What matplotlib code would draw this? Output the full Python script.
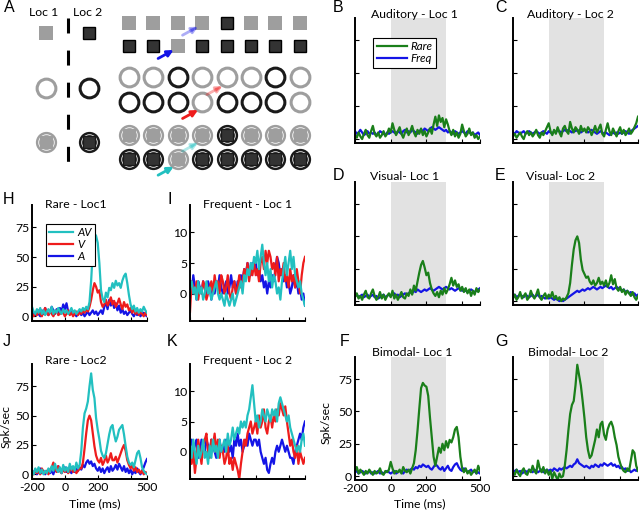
import numpy as np
import matplotlib.pyplot as plt

plt.rcParams['font.family'] = ['Lato', 'DejaVu Sans']

# time axis (ms), one value every 10 ms
t = np.arange(-200, 501, 10)

# B-G: rare (green) and frequent (blue) trials, spk/sec
aud1_rare = [3, 1, 5, 2, 0, 4, 7, 3, 1, 6,
             10, 4, 2, 5, 1, 3, 6, 2, 4, 8,
             5, 12, 7, 3, 6, 9, 4, 1, 5, 8,
             3, 6, 10, 5, 2, 7, 4, 8, 3, 6,
             2, 5, 8, 4, 11, 17, 10, 18, 13, 16,
             9, 15, 11, 6, 3, 7, 2, 5, 1, 4,
             11, 6, 2, 4, 8, 3, 5, 1, 3, 0, 2]
aud1_freq = [6, 4, 5, 7, 5, 3, 4, 6, 4, 5,
             4, 5, 3, 4, 6, 5, 4, 3, 5, 4,
             5, 6, 5, 4, 6, 5, 4, 6, 7, 5,
             6, 5, 7, 6, 5, 4, 6, 7, 6, 8,
             7, 6, 8, 9, 8, 7, 8, 9, 8, 7,
             6, 7, 5, 6, 5, 4, 6, 5, 4, 5,
             6, 5, 4, 6, 5, 4, 5, 3, 4, 5, 3]
aud2_rare = [2, 4, 1, 3, 5, 2, 0, 4, 6, 3,
             5, 2, 4, 7, 3, 1, 5, 3, 6, 9,
             12, 6, 3, 7, 4, 9, 5, 2, 8, 10,
             6, 4, 13, 8, 5, 9, 7, 4, 10, 6,
             8, 5, 9, 7, 3, 6, 10, 5, 8, 11,
             4, 2, 7, 12, 6, 3, 8, 5, 2, 6,
             9, 4, 7, 3, 5, 8, 4, 6, 9, 12, 17]
aud2_freq = [5, 4, 6, 5, 4, 5, 6, 4, 5, 6,
             5, 4, 5, 6, 5, 4, 5, 6, 5, 4,
             6, 5, 4, 6, 5, 7, 6, 5, 6, 7,
             6, 7, 6, 5, 7, 6, 7, 6, 5, 6,
             7, 6, 5, 6, 7, 6, 5, 4, 5, 6,
             5, 4, 5, 4, 3, 4, 5, 4, 5, 4,
             5, 4, 5, 6, 5, 4, 6, 7, 8, 9, 10]
vis1_rare = [3, 6, 2, 4, 1, 5, 8, 3, 2, 6,
             9, 4, 1, 3, 7, 2, 5, 1, 4, 6,
             3, 8, 2, 5, 1, 4, 7, 3, 2, 6,
             4, 9, 5, 12, 8, 15, 22, 28, 31, 26,
             20, 22, 14, 9, 6, 4, 7, 3, 8, 5,
             10, 6, 9, 13, 18, 12, 16, 11, 13, 8,
             11, 7, 10, 6, 9, 4, 8, 5, 10, 7, 9]
vis1_freq = [4, 5, 3, 4, 5, 3, 4, 5, 3, 4,
             5, 3, 4, 2, 3, 4, 5, 3, 4, 5,
             4, 5, 6, 4, 5, 3, 4, 5, 6, 5,
             6, 7, 6, 8, 7, 9, 8, 7, 8, 9,
             8, 9, 10, 9, 8, 9, 10, 11, 10, 9,
             10, 11, 10, 9, 10, 9, 8, 9, 10, 9,
             8, 9, 8, 7, 8, 9, 8, 7, 8, 9, 10]
vis2_rare = [2, 5, 1, 3, 7, 2, 4, 6, 1, 3,
             8, 4, 2, 5, 9, 3, 1, 4, 6, 2,
             5, 3, 7, 2, 4, 1, 3, 0, 2, 1,
             3, 6, 14, 28, 40, 47, 50, 45, 32, 24,
             21, 18, 19, 15, 13, 16, 12, 14, 18, 13,
             15, 12, 16, 11, 14, 20, 13, 17, 10, 8,
             11, 7, 9, 5, 8, 6, 4, 7, 3, 1, 4]
vis2_freq = [4, 5, 3, 4, 5, 4, 3, 5, 4, 3,
             4, 5, 3, 4, 5, 3, 4, 3, 2, 3,
             2, 3, 2, 1, 2, 1, 0, 1, 0, 1,
             2, 3, 4, 5, 6, 7, 8, 7, 8, 9,
             8, 9, 10, 9, 10, 11, 10, 9, 10, 11,
             10, 11, 12, 11, 10, 11, 9, 10, 11, 10,
             9, 8, 9, 7, 8, 6, 7, 5, 6, 4, 5]
bim1_rare = [4, 7, 2, 5, 3, 1, 4, 2, 5, 3,
             1, 4, 2, 3, 6, 2, 1, 4, 3, 5,
             11, 6, 2, 4, 3, 5, 2, 7, 4, 3,
             5, 2, 6, 10, 20, 35, 52, 68, 72, 70,
             69, 62, 45, 30, 15, 8, 15, 22, 18, 25,
             20, 27, 22, 28, 26, 30, 36, 38, 30, 15,
             6, 3, 6, 2, 4, 1, 3, 5, 2, 8, 4]
bim1_freq = [3, 4, 2, 3, 4, 3, 2, 3, 4, 2,
             3, 2, 3, 4, 2, 3, 2, 3, 4, 3,
             2, 3, 4, 2, 3, 4, 3, 2, 4, 5,
             4, 5, 6, 5, 7, 6, 8, 7, 9, 8,
             7, 8, 6, 5, 7, 9, 8, 6, 5, 7,
             4, 6, 8, 5, 4, 7, 9, 10, 7, 5,
             4, 6, 5, 3, 4, 5, 3, 4, 2, 3, 2]
bim2_rare = [3, 1, 5, 2, 0, 4, 6, 2, 1, 5,
             3, 8, 4, 2, 12, 6, 3, 7, 2, 5,
             1, 4, -2, 3, 0, -3, 2, -1, 0, 8,
             20, 35, 48, 55, 58, 70, 86, 78, 70, 58,
             45, 30, 20, 14, 16, 22, 28, 36, 30, 40,
             42, 32, 28, 36, 40, 42, 38, 30, 24, 15,
             10, 6, 4, 3, 6, 4, 12, 20, 18, 8, 4]
bim2_freq = [3, 4, 5, 3, 4, 2, 3, 4, 3, 5,
             4, 3, 5, 4, 3, 4, 5, 3, 4, 5,
             4, 5, 4, 6, 5, 4, 6, 5, 6, 7,
             6, 7, 8, 7, 9, 10, 13, 10, 9, 8,
             7, 8, 7, 6, 8, 7, 9, 8, 7, 9,
             8, 10, 9, 8, 9, 10, 8, 9, 7, 8,
             6, 7, 5, 6, 4, 5, 3, 4, 5, 4, 6]

# H-K: AV (cyan), V (red), A (blue)
rare1_av = [8, 4, 2, 6, 3, 7, 2, 5, 1, 4,
            6, 3, 8, 2, 5, 3, 7, 4, 2, 6,
            3, 5, 2, 4, 7, 3, 5, 2, 4, 6,
            4, 7, 5, 8, 6, 12, 30, 55, 70, 68,
            62, 45, 22, 15, 12, 20, 16, 24, 22, 28,
            24, 30, 26, 28, 24, 30, 34, 36, 28, 18,
            10, 6, 9, 4, 7, 3, 6, 4, 8, 5, 3]
rare1_v = [2, 0, 3, 1, 5, 2, 0, 4, 7, 3,
           1, 4, 2, 0, 3, 5, 1, 2, 4, 3,
           0, 2, 5, 1, 3, 0, 2, 4, 1, 3,
           2, 5, 3, 6, 4, 8, 14, 22, 28, 25,
           20, 22, 12, 8, 10, 14, 9, 12, 16, 10,
           13, 8, 11, 15, 10, 6, 12, 8, 10, 5,
           7, 3, 6, 2, 5, 1, 4, 2, 0, 3, 1]
rare1_a = [0, 3, 1, 4, 2, 0, 5, 2, 7, 3,
           1, 4, 8, 5, 2, 6, 3, 7, 4, 10,
           6, 11, 4, 2, 5, 1, 3, 0, 2, 4,
           1, 3, 0, 2, 4, 1, 3, 5, 2, 4,
           1, 3, 5, 2, 8, 12, 6, 14, 9, 13,
           7, 11, 5, 9, 3, 6, 2, 4, 1, 3,
           5, 2, 0, 3, 1, 4, 0, 2, 3, 1, 0]
freq1_av = [1, 2, 0, 1, -1, 2, 0, 1, -1, 0,
            2, 0, 1, -1, 0, 1, 2, 0, -1, 0,
            -1, -2, 0, -1, -2, -1, 0, -2, -1, 0,
            1, 2, 0, 3, 2, 4, 3, 5, 4, 6,
            5, 7, 4, 6, 8, 5, 3, 5, 2, 4,
            1, 3, 2, 0, 1, -1, 2, 4, 6, 3,
            5, 7, 4, 6, 3, 2, 1, 2, 0, -1, -2]
freq1_v = [-3, 2, 1, 0, 2, -1, 1, 0, 2, 1,
           -1, 0, 1, 2, 0, 3, 1, 2, 0, 3,
           2, 0, 1, 3, 0, -1, 1, 2, 0, 1,
           3, 1, 2, 4, 3, 5, 2, 4, 3, 5,
           3, 4, 2, 5, 6, 4, 7, 5, 7, 6,
           4, 5, 3, 6, 2, 4, 3, 5, 2, 3,
           1, 4, 2, 3, 1, 4, 2, 0, 3, 5, 6]
freq1_a = [2, 0, 3, 1, -1, 2, 1, 0, 2, 1,
           0, 2, 1, -1, 1, 0, 2, 1, 3, 1,
           0, 1, 2, 0, 1, 3, 1, 2, 0, 2,
           1, 3, 2, 4, 3, 5, 4, 3, 5, 4,
           5, 3, 4, 2, 3, 1, 2, 0, 2, 1,
           3, 2, 4, 6, 5, 3, 4, 2, 3, 1,
           2, 0, 1, 3, 1, 2, 0, 1, -1, 0, -2]
rare2_av = [3, 0, 5, 2, 6, 1, 4, 0, 3, 1,
            5, 2, 7, 3, 9, 4, 2, 6, 1, 8,
            3, 6, 2, 9, 4, 7, 3, 10, 5, 8,
            20, 40, 52, 56, 62, 75, 86, 72, 65, 48,
            38, 30, 20, 16, 14, 18, 26, 34, 40, 42,
            34, 28, 32, 38, 40, 42, 34, 24, 15, 10,
            8, 10, 6, 12, 18, 20, 14, 6, 3, 1, 0]
rare2_v = [2, 0, 4, 1, 3, 0, 5, 2, 1, 3,
           0, 4, 6, 10, 5, 2, 7, 3, 1, 4,
           2, 5, 1, 3, 6, 2, 4, 1, 3, 5,
           5, 10, 22, 35, 46, 50, 46, 35, 24, 16,
           12, 10, 14, 8, 11, 16, 10, 13, 18, 12,
           12, 15, 10, 14, 18, 22, 25, 20, 12, 8,
           5, 8, 3, 6, 2, 4, 1, 3, 0, 2, 1]
rare2_a = [3, 1, 4, 0, 2, 5, 1, 3, 0, 2,
           4, 1, 3, 0, 5, 2, 7, 3, 1, 4,
           6, 2, 5, 3, 1, 4, 2, 5, 3, 6,
           4, 8, 6, 10, 12, 9, 11, 7, 9, 5,
           3, 6, 2, 5, 1, 4, 6, 2, 7, 3,
           5, 8, 4, 9, 6, 3, 7, 2, 5, 1,
           4, 0, 3, 1, 5, 2, 0, 3, 6, 10, 13]
freq2_av = [1, -1, 2, 0, -2, 1, -1, 0, 2, -1,
            0, -2, 1, -1, 2, 0, 1, -1, 2, 0,
            1, 2, 0, 3, 1, 2, 4, 2, 3, 4,
            3, 5, 4, 5, 4, 6, 7, 9, 11, 8,
            5, 6, 4, 5, 7, 6, 5, 7, 6, 5,
            7, 6, 7, 5, 8, 9, 8, 7, 6, 5,
            6, 4, 3, 2, 1, 0, 1, 0, 2, 3, 1]
freq2_v = [-1, -2, 0, -3.5, -1, 2, 0, -2, 1, 2,
           3, 0, -1, 2, 1, 3, 0, 2, -1, 1,
           0, -2, -1, 1, -2, -1, -3, -1, -2, -3,
           -4.5, -2, 0, 2, 1, 3, 4, 5, 3, 4,
           5, 3, 6, 4, 5, 7, 4, 3, 5, 6,
           4, 6, 5, 7, 6, 8, 7, 6, 7.5, 5,
           3, 1, 2, 0, -1, 1, -2, 0, -1, -2, -1]
freq2_a = [1, 2, 0, 1, 2, -1, 0, 2, 1, 0,
           2, 1, 0, 2, 1, 0, -1, 1, 2, 0,
           1, 0, 2, 1, 0, 1, -1, 2, 1, 3,
           1, 2, 0, 1, 2, 1, 3, 2, 1, 2,
           2, 1, 2, 0, -1, -2, -1, -3, -3.5, -2,
           -1, -2, 0, 1, 0, 1, 2, 1, 0, 1,
           0, -1, -1, -2, 0, 1, 2, 3, 2, 4, 5]

# A: stimulus sequences (g = loc 1 / gray, k = loc 2 / black)
square_rows = ['ggggkggg', 'kkgkkkkk']
ring_rows = ['ggkgggkg', 'kkkgkkkg']
both_rows = ['ggggkggg', 'kkgkkkkk']

GREEN = '#1a7f1a'
BLUE = '#1414e6'
CYAN = '#22c0c0'
RED = '#ee1c1c'
SHADE = '#e2e2e2'
GRAY = '#9e9e9e'
DARK = '#1a1a1a'
FS = 8.8

W, H = 640, 511
fig = plt.figure(figsize=(W / 100, H / 100), dpi=100)


def px_axes(left, top, right, bottom):
    return fig.add_axes([left / W, 1 - bottom / H, (right - left) / W, (bottom - top) / H])


def style(ax, ylim, yticks, ylab, xlab):
    ax.set_xlim(-200, 500)
    ax.set_ylim(*ylim)
    for s in ['top', 'right']:
        ax.spines[s].set_visible(False)
    for s in ['left', 'bottom']:
        ax.spines[s].set_linewidth(1.4)
    ax.tick_params(direction='in', length=3, width=0.8, labelsize=FS, pad=2)
    ax.set_yticks(yticks)
    ax.set_xticks([-200, 0, 200, 400, 500])
    if ylab:
        ax.set_yticklabels([str(v) for v in yticks])
    else:
        ax.set_yticklabels([])
    if xlab:
        ax.set_xticklabels(['-200', '0', '200', '', '500'])
    else:
        ax.set_xticklabels([])


def legend(ax, handles, names, x, hl):
    lg = ax.legend(handles, names, loc='upper left', bbox_to_anchor=(x, 0.89),
                   handlelength=hl, handletextpad=0.3, borderpad=0.3,
                   labelspacing=0.1, fancybox=False, framealpha=1, edgecolor='k',
                   prop={'style': 'italic', 'size': 8.3})
    lg.get_frame().set_linewidth(0.8)


# right block: B-G
right_panels = [
    (355, 18, 480, 143, aud1_rare, aud1_freq, False, True),
    (513, 18, 638, 143, aud2_rare, aud2_freq, False, False),
    (355, 182, 480, 305, vis1_rare, vis1_freq, False, False),
    (513, 182, 638, 305, vis2_rare, vis2_freq, False, False),
    (355, 357, 480, 480, bim1_rare, bim1_freq, True, False),
    (513, 357, 638, 480, bim2_rare, bim2_freq, False, False),
]
for left, top, right, bottom, rare, freq, labels, leg in right_panels:
    ax = px_axes(left, top, right, bottom)
    ax.axvspan(0, 310, color=SHADE, lw=0, zorder=0)
    lf, = ax.plot(t, freq, color=BLUE, lw=1.6)
    lr, = ax.plot(t, rare, color=GREEN, lw=1.6)
    style(ax, (-3, 92), [0, 25, 50, 75], labels, labels)
    if leg:
        legend(ax, [lr, lf], ['Rare', 'Freq'], 0.1, 2.6)

# left block: H-K
left_panels = [
    (32, 205, 147, 321, rare1_av, rare1_v, rare1_a, (-4, 94), [0, 25, 50, 75], False, True),
    (190, 205, 305, 321, freq1_av, freq1_v, freq1_a, (-4.5, 14.5), [0, 5, 10], False, False),
    (32, 364, 147, 479, rare2_av, rare2_v, rare2_a, (-4, 94), [0, 25, 50, 75], True, False),
    (190, 364, 305, 479, freq2_av, freq2_v, freq2_a, (-4.5, 14.5), [0, 5, 10], False, False),
]
for left, top, right, bottom, av, v, a, ylim, yt, xlab, leg in left_panels:
    ax = px_axes(left, top, right, bottom)
    la, = ax.plot(t, a, color=BLUE, lw=1.6)
    lv, = ax.plot(t, v, color=RED, lw=1.6)
    lav, = ax.plot(t, av, color=CYAN, lw=1.6)
    style(ax, ylim, yt, True, xlab)
    if leg:
        legend(ax, [lav, lv, la], ['AV', 'V', 'A'], 0.07, 2.1)

# overlay in pixel coordinates: panel A, titles, letters
ov = fig.add_axes([0, 0, 1, 1], zorder=10)
ov.set_xlim(0, W)
ov.set_ylim(H, 0)
ov.axis('off')
ov.patch.set_alpha(0)

ov.text(44, 13, 'Loc 1', ha='center', va='center', fontsize=FS)
ov.text(88, 13, 'Loc 2', ha='center', va='center', fontsize=FS)
ov.plot([68.3, 68.3], [18, 162], color='k', lw=2.2, dashes=(4.9, 5.6))

col_color = {'g': GRAY, 'k': DARK}
sq_ms, ring_ms = 9.4, 13.5


def square(x, y, c):
    if c == 'g':
        ov.plot(x, y, 's', ms=sq_ms, mfc=GRAY, mec=GRAY, mew=0)
    else:
        ov.plot(x, y, 's', ms=sq_ms - 0.8, mfc='#333333', mec='k', mew=1)


def ring(x, y, c):
    ov.plot(x, y, 'o', ms=ring_ms, mfc='white', mec=col_color[c], mew=2.2)


def both(x, y, c):
    ov.plot(x, y, 'o', ms=15.3, mfc=col_color[c], mec=col_color[c], mew=0)
    ov.plot(x, y, 'o', ms=11.2, mfc='none', mec='white', mew=0.6)
    inner = GRAY if c == 'g' else '#333333'
    ov.plot(x, y, 's', ms=8.2, mfc=inner, mec=col_color[c], mew=0.9)


# left legend column
square(46, 33, 'g'); square(89, 33, 'k')
ring(46, 88, 'g'); ring(89, 88, 'k')
both(46, 142, 'g'); both(89, 142, 'k')

xs = 128.7 + 24.45 * np.arange(8)
for rows, ys, fn in [(square_rows, (22.7, 46), square),
                     (ring_rows, (77.5, 102.5), ring),
                     (both_rows, (135, 158.7), both)]:
    for row, y in zip(rows, ys):
        for x, c in zip(xs, row):
            fn(x, y, c)


def arrow(x, y, c, alpha, dy):
    ov.annotate('', xy=(x - 4, y + dy), xytext=(x - 19.5, y + dy + 8.5),
                arrowprops=dict(arrowstyle='-|>', color=c, alpha=alpha, lw=2,
                                mutation_scale=9, shrinkA=0, shrinkB=0))


arrow(xs[2], 46, BLUE, 1, 4)
arrow(xs[3], 22.7, BLUE, 0.35, 4)
arrow(xs[3], 102.5, RED, 1, 7.5)
arrow(xs[4], 77.5, RED, 0.35, 8.5)
arrow(xs[2], 158.7, CYAN, 1, 8)
arrow(xs[3], 135, CYAN, 0.35, 7.7)

# titles
titles = [('Auditory - Loc 1', 414, 15), ('Auditory - Loc 2', 570, 15),
          ('Visual- Loc 1', 405, 177), ('Visual- Loc 2', 561, 177),
          ('Bimodal- Loc 1', 412, 352), ('Bimodal- Loc 2', 568, 352),
          ('Rare - Loc1', 76, 204), ('Frequent - Loc 1', 248, 204),
          ('Rare - Loc2', 76, 360), ('Frequent - Loc 2', 248, 360)]
for s, x, y in titles:
    ov.text(x, y, s, ha='center', va='center', fontsize=FS)

letters = [('A', 9, 8), ('B', 338, 7), ('C', 501, 7), ('D', 338, 176),
           ('E', 500, 176), ('F', 345, 341), ('G', 502, 341),
           ('H', 8, 199), ('I', 170, 199), ('J', 7, 341), ('K', 172, 341)]
for s, x, y in letters:
    ov.text(x, y, s, ha='center', va='center', fontsize=11.5, family='Liberation Sans')

ov.text(326, 423, 'Spk/sec', rotation=90, ha='center', va='center', fontsize=FS)
ov.text(6, 427, 'Spk/sec', rotation=90, ha='center', va='center', fontsize=FS)
ov.text(420, 504, 'Time (ms)', ha='center', va='center', fontsize=FS)
ov.text(95, 504, 'Time (ms)', ha='center', va='center', fontsize=FS)

fig.savefig('out.png', dpi=100)
